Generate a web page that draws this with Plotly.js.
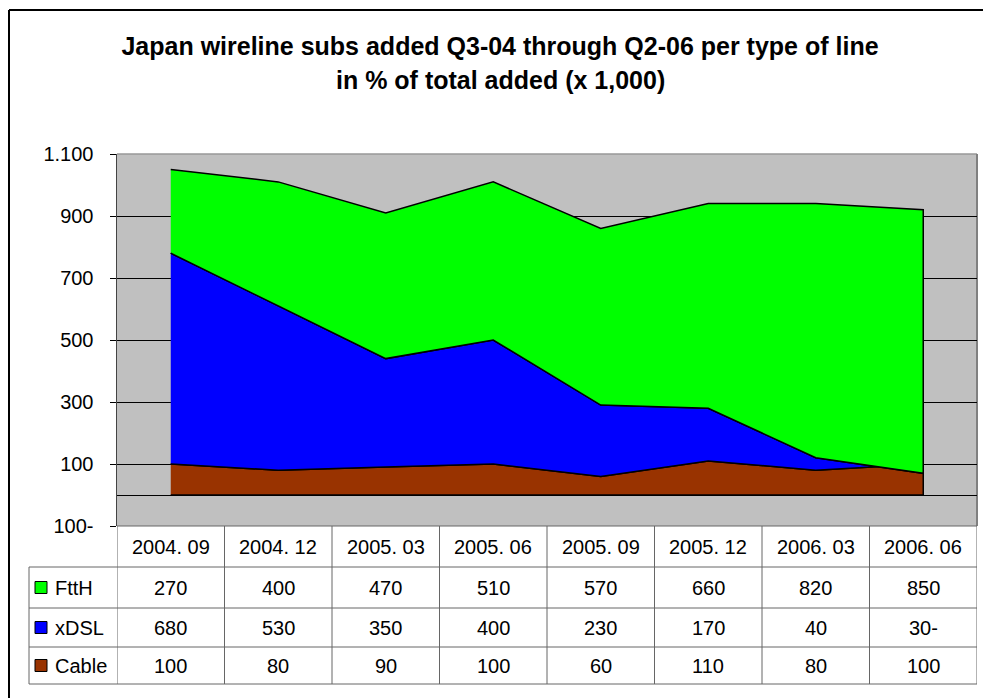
<!DOCTYPE html>
<html>
<head>
<meta charset="utf-8">
<script src="https://cdn.plot.ly/plotly-3.0.1.min.js"></script>
<style>html,body{margin:0;padding:0;background:#fff;}#chart{width:983px;height:698px;}</style>
</head>
<body>
<div id="chart"></div>
<script>
// ---- data ----
const categories = ['2004. 09','2004. 12','2005. 03','2005. 06','2005. 09','2005. 12','2006. 03','2006. 06'];
const ftth  = [270, 400, 470, 510, 570, 660, 820, 850];
const xdsl  = [680, 530, 350, 400, 230, 170, 40, -30];
const cable = [100, 80, 90, 100, 60, 110, 80, 100];
const seriesNames = ['FttH', 'xDSL', 'Cable'];
const yTickVals = [-100, 100, 300, 500, 700, 900, 1100];
const titleLine1 = 'Japan wireline subs added Q3-04 through Q2-06 per type of line';
const titleLine2 = 'in % of total added (x 1,000)';

// ---- helpers ----
function fmt(v){
  const a = Math.abs(v).toString().replace(/\B(?=(\d{3})+(?!\d))/g, '.');
  return v < 0 ? a + '-' : a;
}
const W = 983, H = 698;
const M = {l:117, r:6, t:154, b:172};
const PW = W - M.l - M.r, PH = H - M.t - M.b;
const px2x = p => (p - M.l) / PW;
const py2y = p => (H - M.b - p) / PH;

const colors = {FttH:'#00FF00', xDSL:'#0000FF', Cable:'#993300'};
const FONT = 'Liberation Sans, Arial, sans-serif';
const TFS = 20;

// stacking
const zero = cable.map(() => 0);
const s1 = cable.map(v => v);
const s2 = s1.map((v,i) => v + xdsl[i]);
const s3 = s2.map((v,i) => v + ftth[i]);

function poly(name, top, bottom){
  return {
    type:'scatter', mode:'lines', name:name,
    x: categories.concat(categories.slice().reverse()),
    y: top.concat(bottom.slice().reverse()),
    fill:'toself', fillcolor: colors[name],
    line:{color:'#000', width:1.5},
    hoverinfo:'skip', showlegend:false
  };
}
const traces = [
  poly('Cable', s1, zero),
  poly('xDSL', s2, s1),
  poly('FttH', s3, s2)
];

// ---- table ----
const shapes = [];
const annotations = [];
const tableLine = {color:'#666', width:1};
const rowEdges = [526, 567, 608, 647, 684];
const tableLeft = 29;
rowEdges.forEach((r, k) => {
  shapes.push({type:'line', xref:'paper', yref:'paper',
    x0: k === 0 ? 0 : px2x(tableLeft), x1: 1, y0: py2y(r), y1: py2y(r), line: tableLine});
});
for (let i = 0; i <= categories.length; i++){
  shapes.push({type:'line', xref:'x', yref:'paper', x0: i - 0.5, x1: i - 0.5,
    y0: py2y(526), y1: py2y(684), line: tableLine});
}
shapes.push({type:'line', xref:'paper', yref:'paper', x0: px2x(tableLeft), x1: px2x(tableLeft),
  y0: py2y(567), y1: py2y(684), line: tableLine});

const rowCenter = k => (rowEdges[k] + rowEdges[k+1]) / 2;
categories.forEach((c, i) => {
  annotations.push({xref:'x', yref:'paper', x:i, y: py2y(rowCenter(0)), text:c,
    showarrow:false, xanchor:'center', yanchor:'middle', font:{family:FONT, size:TFS, color:'#000'}});
});
const rows = [ftth, xdsl, cable];
rows.forEach((vals, k) => {
  const yc = py2y(rowCenter(k+1));
  const name = seriesNames[k];
  vals.forEach((v, i) => {
    annotations.push({xref:'x', yref:'paper', x:i, y:yc, text:fmt(v),
      showarrow:false, xanchor:'center', yanchor:'middle', font:{family:FONT, size:TFS, color:'#000'}});
  });
  const cy = rowCenter(k+1);
  shapes.push({type:'rect', xref:'paper', yref:'paper', x0:px2x(35), x1:px2x(47),
    y0: py2y(cy + 6), y1: py2y(cy - 6), fillcolor: colors[name], line:{color:'#000', width:1}});
  annotations.push({xref:'paper', yref:'paper', x:px2x(53), y:yc, text:name,
    showarrow:false, xanchor:'left', yanchor:'middle', font:{family:FONT, size:TFS, color:'#000'}});
});

// plot area borders (top / right)
shapes.push({type:'line', xref:'paper', yref:'paper', x0:0, x1:1, y0:1, y1:1,
  line:{color:'#999', width:1.5}, layer:'between'});
shapes.push({type:'line', xref:'paper', yref:'paper', x0:1, x1:1, y0:0, y1:1,
  line:{color:'#808080', width:2}, layer:'between'});
// outer chart border (left / top)
shapes.push({type:'line', xref:'paper', yref:'paper', x0:px2x(9), x1:px2x(9), y0:py2y(10), y1:py2y(720),
  line:{color:'#000', width:2}});
shapes.push({type:'line', xref:'paper', yref:'paper', x0:px2x(9), x1:px2x(1000), y0:py2y(10), y1:py2y(10),
  line:{color:'#000', width:2}});

// second title line
annotations.push({xref:'paper', yref:'paper', x:px2x(500), y:py2y(80), text:'<b>' + titleLine2 + '</b>',
  showarrow:false, xanchor:'center', yanchor:'middle', font:{family:FONT, size:25, color:'#000'}});

const layout = {
  width:W, height:H,
  margin:M,
  paper_bgcolor:'#fff', plot_bgcolor:'#C0C0C0',
  font:{family:FONT, color:'#000'},
  title:{text:'<b>' + titleLine1 + '</b>', xref:'container', x:500/W, xanchor:'center',
    yref:'container', y:1 - 46/H, yanchor:'middle', font:{family:FONT, size:25, color:'#000'}},
  showlegend:false,
  xaxis:{type:'category', categoryorder:'array', categoryarray:categories, range:[-0.5, categories.length - 0.5],
    showgrid:false, zeroline:false, showticklabels:false, ticks:'', showline:false, fixedrange:true},
  yaxis:{range:[-100, 1100], tickvals:yTickVals, ticktext:yTickVals.map(fmt),
    showgrid:true, gridcolor:'#000', gridwidth:1,
    zeroline:true, zerolinecolor:'#000', zerolinewidth:1,
    ticks:'outside', ticklen:6, tickcolor:'#000', tickwidth:1,
    showline:true, linecolor:'#444', linewidth:1.5,
    ticklabelstandoff:12,
    tickfont:{family:FONT, size:20, color:'#000'}, fixedrange:true},
  shapes:shapes,
  annotations:annotations
};

Plotly.newPlot('chart', traces, layout, {displayModeBar:false, staticPlot:true});
</script>
</body>
</html>
